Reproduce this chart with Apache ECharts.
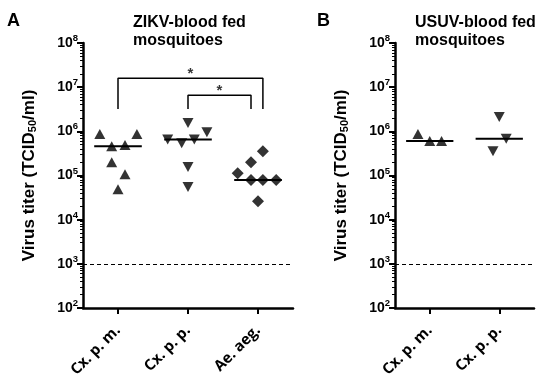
<!DOCTYPE html>
<html><head><meta charset="utf-8">
<script src="https://cdn.jsdelivr.net/npm/echarts@6/dist/echarts.min.js"></script>
<style>html,body{margin:0;padding:0;background:#fff}#c{width:550px;height:380px}</style>
</head><body><div id="c"></div>
<script>
// ---------- data ----------
const catsA = ['Cx. p. m.', 'Cx. p. p.', 'Ae. aeg.'];
const catsB = ['Cx. p. m.', 'Cx. p. p.'];
// Panel A: ZIKV-blood fed mosquitoes, virus titer (TCID50/ml)
const zikvCxpm = [8.7e5, 8.7e5, 4.6e5, 4.9e5, 2.0e5, 1.07e5, 4.9e4];
const zikvCxpp = [1.55e6, 6.5e5, 5.4e5, 6.5e5, 9.5e5, 1.55e5, 5.5e4];
const zikvAeaeg = [3.55e5, 2.0e5, 1.12e5, 7.9e4, 7.9e4, 7.9e4, 2.6e4];
// within-category scatter (jitter) of the points, in category widths
const jitCxpmA = [-0.26, 0.27, -0.09, 0.10, -0.09, 0.10, 0];
const jitCxppA = [0, -0.29, -0.09, 0.09, 0.27, 0, 0];
const jitAeaegA = [0.07, -0.10, -0.29, -0.10, 0.07, 0.26, 0];
// Panel B: USUV-blood fed mosquitoes
const usuvCxpm = [8.7e5, 6.0e5, 6.0e5];
const usuvCxpp = [2.1e6, 3.55e5, 6.8e5];
const jitCxpmB = [-0.17, 0, 0.17];
const jitCxppB = [0, -0.09, 0.10];
// detection limit
const detectionLimit = 1e3;
// y axis range (log)
const yMin = 1e2, yMax = 1e8;
// significance brackets (from category, to category, leg bottom, top, label)
const bracketFrom = [0, 1];
const bracketTo = [2.07, 1.9];
const bracketLow = [3.2e6, 3.2e6];
const bracketHigh = [1.6e7, 6.6e6];
const bracketText = ['*', '*'];

// ---------- helpers ----------
function median(a){const s=[...a].sort((x,y)=>x-y);const n=s.length;return n%2?s[(n-1)/2]:(s[n/2-1]+s[n/2])/2;}
const minorVals=[];
for(let k=2;k<8;k++){for(let m=2;m<=9;m++){minorVals.push(k+Math.log10(m));}}
const FONT='"Liberation Sans", Arial, sans-serif';
const XFONT='"Open Sans", "Liberation Sans", sans-serif';

function yAxesFor(grid){
  return [{
    type:'log', gridIndex:grid, position:'left', min:yMin, max:yMax, logBase:10, splitNumber:6,
    axisLine:{show:true,onZero:false,lineStyle:{color:'#000',width:2.5}},
    axisTick:{show:true,length:6,lineStyle:{color:'#000',width:2}},
    splitLine:{show:false},
    axisLabel:{margin:5,color:'#000',fontFamily:FONT,
      formatter:v=>'{b|10}{s|'+Math.round(Math.log10(v))+'}',
      rich:{b:{fontSize:14,fontWeight:'bold',color:'#000',fontFamily:FONT},
            s:{fontSize:9.5,fontWeight:'bold',color:'#000',fontFamily:FONT,padding:[0,0,9,0]}}},
    name:'{t|Virus titer (TCID}{u|50}{t|/ml)}',
    nameLocation:'middle', nameRotate:90, nameGap:45,
    nameTextStyle:{rich:{t:{fontSize:17,fontWeight:'bold',color:'#000',fontFamily:FONT},
                         u:{fontSize:11,fontWeight:'bold',color:'#000',fontFamily:FONT,padding:[7,0,0,0]}}}
  },{
    type:'value', gridIndex:grid, position:'left', offset:0, min:2, max:8,
    axisLine:{show:false,onZero:false}, axisLabel:{show:false}, splitLine:{show:false},
    axisTick:{show:true,customValues:minorVals,length:3,lineStyle:{color:'#000',width:1}}
  }];
}
function xAxesFor(grid,cats){
  return [{
    type:'category', gridIndex:grid, position:'bottom', data:cats, boundaryGap:true,
    axisLine:{show:true,onZero:false,lineStyle:{color:'#000',width:2.5}},
    axisTick:{show:true,alignWithLabel:true,length:6,lineStyle:{color:'#000',width:2}},
    axisLabel:{rotate:45,margin:20,color:'#000',fontSize:15,fontWeight:'bold',fontFamily:XFONT,interval:0},
    splitLine:{show:false}
  },{
    type:'value', gridIndex:grid, position:'bottom', min:-0.5, max:cats.length-0.5, show:false,
    axisLine:{onZero:false}
  }];
}
function pts(vals,jit,ci){return vals.map((v,i)=>[ci+jit[i],v]);}
function scatter(xi,yi,vals,jit,ci,sym,size,rot){
  return {type:'scatter',xAxisIndex:xi,yAxisIndex:yi,data:pts(vals,jit,ci),symbol:sym,symbolSize:size,symbolRotate:rot,
    itemStyle:{color:'#000'},z:3,silent:true};
}
function medLine(xi,yi,vals,ci){
  const m=median(vals);
  return {type:'line',xAxisIndex:xi,yAxisIndex:yi,data:[[ci-0.34,m],[ci+0.34,m]],symbol:'none',
    lineStyle:{color:'#000',width:2},z:4,silent:true};
}

const series=[
  scatter(1,0,zikvCxpm,jitCxpmA,0,'triangle',[11,10],0),
  scatter(1,0,zikvCxpp,jitCxppA,1,'triangle',[11,10],180),
  scatter(1,0,zikvAeaeg,jitAeaegA,2,'diamond',[12,12],0),
  medLine(1,0,zikvCxpm,0), medLine(1,0,zikvCxpp,1), medLine(1,0,zikvAeaeg,2),
  scatter(3,2,usuvCxpm,jitCxpmB,0,'triangle',[11,10],0),
  scatter(3,2,usuvCxpp,jitCxppB,1,'triangle',[11,10],180),
  medLine(3,2,usuvCxpm,0), medLine(3,2,usuvCxpp,1)
];
// detection limit lines
[[1,0],[3,2]].forEach(([xi,yi])=>{
  series.push({type:'line',xAxisIndex:xi,yAxisIndex:yi,data:[],symbol:'none',
    markLine:{silent:true,symbol:['none','none'],label:{show:false},
      lineStyle:{color:'#000',type:[4,3],width:1},data:[{yAxis:detectionLimit}]}});
});
// brackets
bracketFrom.forEach((f,i)=>{
  const t=bracketTo[i],lo=bracketLow[i],hi=bracketHigh[i];
  series.push({type:'line',xAxisIndex:1,yAxisIndex:0,data:[[f,lo],[f,hi],[t,hi],[t,lo]],symbol:'none',
    lineStyle:{color:'#000',width:1.5},silent:true});
  series.push({type:'scatter',xAxisIndex:1,yAxisIndex:0,data:[[(f+t)/2,hi]],symbolSize:1,
    itemStyle:{color:'rgba(0,0,0,0)'},silent:true,
    label:{show:true,position:'top',distance:-4,formatter:bracketText[i],color:'#000',fontSize:15,fontWeight:'bold',fontFamily:FONT}});
});

const option={
  animation:false,
  backgroundColor:'#fff',
  title:[
    {text:'A',left:7,top:12,padding:0,textStyle:{fontSize:18,fontWeight:'bold',color:'#000',fontFamily:FONT}},
    {text:'ZIKV-blood fed\nmosquitoes',left:133,top:14,padding:0,textStyle:{fontSize:16,fontWeight:'bold',color:'#000',fontFamily:FONT,lineHeight:18}},
    {text:'B',left:317,top:12,padding:0,textStyle:{fontSize:18,fontWeight:'bold',color:'#000',fontFamily:FONT}},
    {text:'USUV-blood fed\nmosquitoes',left:415,top:14,padding:0,textStyle:{fontSize:16,fontWeight:'bold',color:'#000',fontFamily:FONT,lineHeight:18}}
  ],
  grid:[
    {left:83,right:257,top:43,bottom:72,containLabel:false},
    {left:395,right:16,top:43,bottom:72,containLabel:false}
  ],
  xAxis:[...xAxesFor(0,catsA),...xAxesFor(1,catsB)],
  yAxis:[...yAxesFor(0),...yAxesFor(1)],
  series:series
};
const chart=echarts.init(document.getElementById('c'),null,{renderer:'canvas'});
chart.setOption(option);
</script>
</body></html>
